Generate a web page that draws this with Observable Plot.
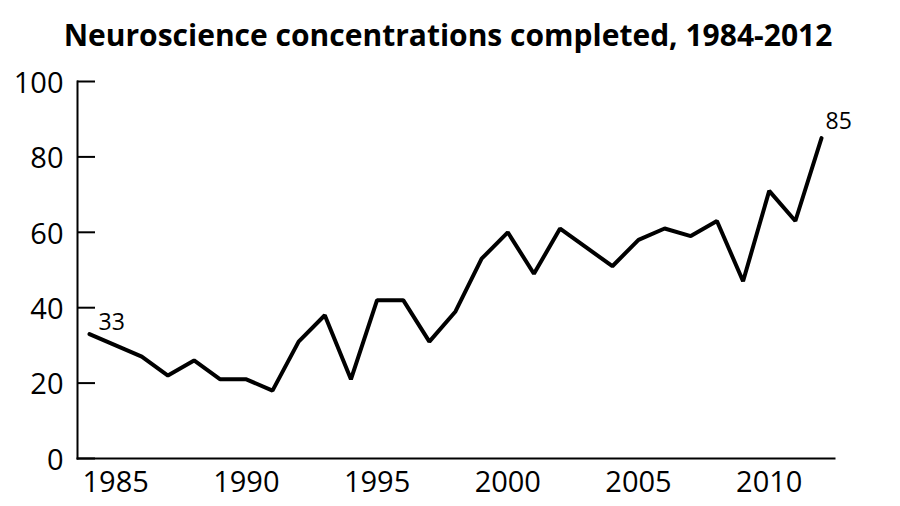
<!DOCTYPE html>
<html>
<head>
<meta charset="utf-8">
<script src="https://cdn.jsdelivr.net/npm/d3@7"></script>
<script src="https://cdn.jsdelivr.net/npm/@observablehq/plot@0.6"></script>
<style>
  html, body { margin: 0; padding: 0; background: #fff; }
</style>
</head>
<body>
<div id="chart"></div>
<script>
const title = "Neuroscience concentrations completed, 1984-2012";
const years = [1984,1985,1986,1987,1988,1989,1990,1991,1992,1993,1994,1995,1996,1997,1998,1999,2000,2001,2002,2003,2004,2005,2006,2007,2008,2009,2010,2011,2012];
const completed = [33,30,27,22,26,21,21,18,31,38,21,42,42,31,39,53,60,49,61,56,51,58,61,59,63,47,71,63,85];
const yTicks = [0,20,40,60,80,100];
const xTicks = [1985,1990,1995,2000,2005,2010];
const labelled = [1984, 2012];

const data = years.map((year, i) => ({year, value: completed[i]}));
const first = data.filter(d => d.year === labelled[0]);
const last = data.filter(d => d.year === labelled[1]);

const chart = Plot.plot({
  width: 900,
  height: 506,
  marginTop: 81,
  marginLeft: 77,
  marginRight: 66,
  marginBottom: 48,
  style: {fontFamily: "'Open Sans', sans-serif", color: "#000", background: "#fff"},
  x: {domain: [1984, 2012], insetLeft: 12, insetRight: 13},
  y: {domain: [0, 100]},
  marks: [
    Plot.text([title], {frameAnchor: "top", lineAnchor: "middle", dx: -8, dy: -45, fontSize: 30, fontWeight: 700, fill: "#000"}),
    Plot.frame({anchor: "left", stroke: "#000", strokeWidth: 2}),
    Plot.frame({anchor: "bottom", stroke: "#000", strokeWidth: 2}),
    Plot.axisY(yTicks, {tickSize: -18, strokeWidth: 2, text: null, label: null, stroke: "#000"}),
    Plot.axisY(yTicks, {tickSize: 0, tickPadding: 14, fontSize: 29, label: null, fill: "#000", dy: 2}),
    Plot.axisX(xTicks, {tickSize: 0, tickPadding: 13, fontSize: 29, label: null, tickFormat: d => String(d), fill: "#000"}),
    Plot.line(data, {x: "year", y: "value", stroke: "#000", strokeWidth: 4, strokeLinejoin: "miter"}),
    Plot.text(first, {x: "year", y: "value", text: d => String(d.value), textAnchor: "start", dx: 9, dy: -11, fontSize: 23, fill: "#000"}),
    Plot.text(last, {x: "year", y: "value", text: d => String(d.value), textAnchor: "start", dx: 4, dy: -16, fontSize: 23, fill: "#000"})
  ]
});
document.getElementById("chart").appendChild(chart);
</script>
</body>
</html>
